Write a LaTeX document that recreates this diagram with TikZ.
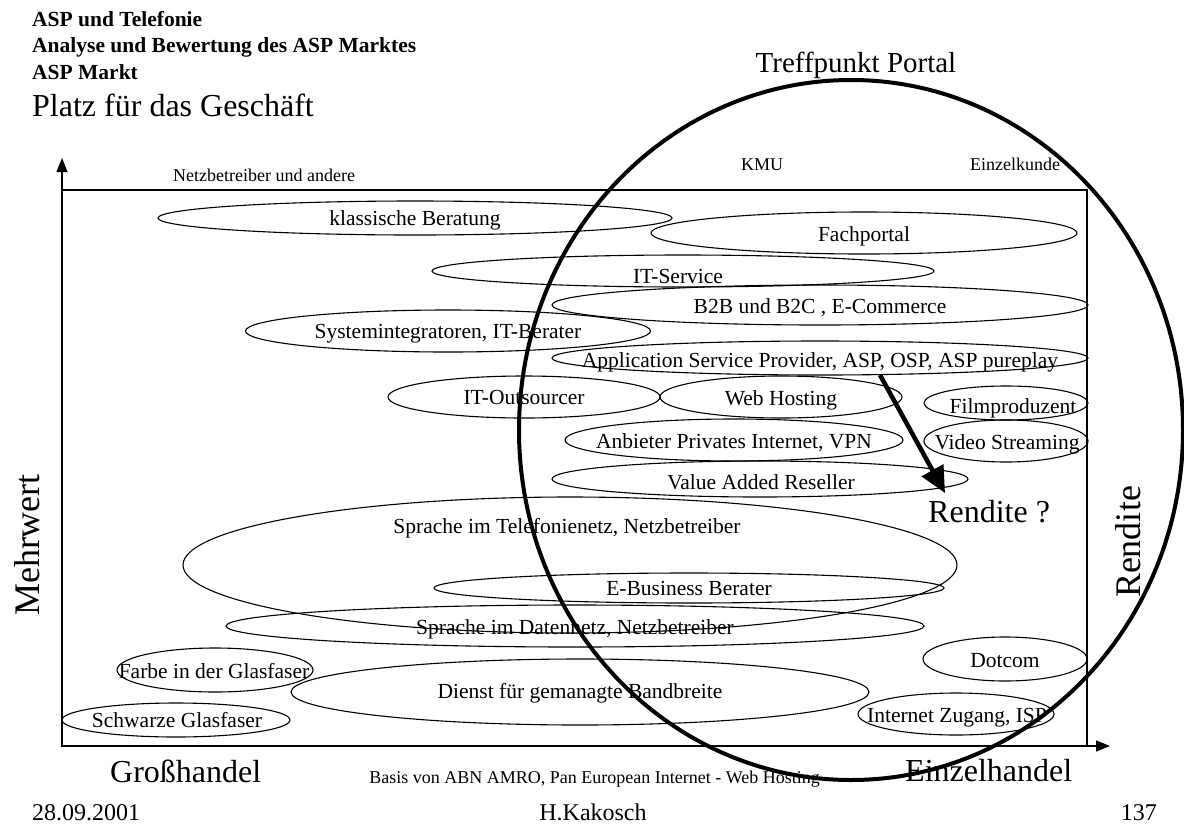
\documentclass[tikz,border=0pt]{standalone}
\usepackage{fontspec}
\setmainfont{Liberation Serif}
\usetikzlibrary{shapes.geometric,arrows.meta}
\begin{document}
\begin{tikzpicture}[x=1pt,y=-1pt,
  thin/.style={line width=1.1pt},
  oval/.style={draw, ellipse, inner sep=0pt, line width=1.1pt},
  lbl/.style={anchor=base, inner sep=0pt, font=\fontsize{21.5}{24}\selectfont},
  small/.style={anchor=base, inner sep=0pt, font=\fontsize{18}{20}\selectfont},
  ttl/.style={anchor=base west, inner sep=0pt, font=\fontsize{21.5}{24}\selectfont\bfseries},
  big/.style={inner sep=0pt, font=\fontsize{36}{40}\selectfont},
  foot/.style={inner sep=0pt, font=\fontsize{24}{26}\selectfont},
  axisarrow/.style={line width=1.1pt, -{Triangle[length=14pt,width=11pt]}},
  portal/.style={draw, ellipse, inner sep=0pt, line width=4pt}]
\useasboundingbox (0,0) rectangle (1184,823);

% titles
\node[ttl] (t1) at (32,26) {ASP und Telefonie};
\node[ttl] (t2) at (32,52) {Analyse und Bewertung des ASP Marktes};
\node[ttl] (t3) at (32,79) {ASP Markt};
\node[anchor=base west, inner sep=0pt, font=\fontsize{32}{36}\selectfont] (t4) at (32,116) {Platz für das Geschäft};
\node[anchor=base, inner sep=0pt, font=\fontsize{29}{32}\selectfont] (tp) at (856,72) {Treffpunkt Portal};

% axes and frame
\coordinate (o) at (62,746);
\coordinate (ytop) at (62,158);
\coordinate (xend) at (1110,746);
\coordinate (rtl) at (62,190);
\coordinate (rbr) at (1087,746);
\draw[thin] (rtl) rectangle (rbr);
\draw[axisarrow] (o) -- (ytop);
\draw[axisarrow] (o) -- (xend);

\node[small, anchor=base west] (nb) at (173,181) {Netzbetreiber und andere};
\node[small] (kmu) at (762,170) {KMU};
\node[small] (ek) at (1015,170) {Einzelkunde};

% ellipses
\node[oval, minimum width=514, minimum height=34] (e1) at (415,218) {};
\node[lbl] at (415,225) {klassische Beratung};
\node[oval, minimum width=426, minimum height=42] (e2) at (864,233) {};
\node[lbl] at (864,241) {Fachportal};
\node[oval, minimum width=502, minimum height=32] (e3) at (683,271) {};
\node[lbl] at (678,283) {IT-Service};
\node[oval, minimum width=536, minimum height=40] (e4) at (820,305) {};
\node[lbl] at (820,313) {B2B und B2C , E-Commerce};
\node[oval, minimum width=405, minimum height=42] (e5) at (448,331) {};
\node[lbl] at (448,338) {Systemintegratoren, IT-Berater};
\node[oval, minimum width=536, minimum height=34] (e6) at (820,358) {};
\node[lbl] at (820,367) {Application Service Provider, ASP, OSP, ASP pureplay};
\node[oval, minimum width=272, minimum height=42] (e7) at (524,397) {};
\node[lbl] at (524,404) {IT-Outsourcer};
\node[oval, minimum width=242, minimum height=42] (e8) at (781,397) {};
\node[lbl] at (781,405) {Web Hosting};
\node[oval, minimum width=164, minimum height=34] (e9) at (1006,403) {};
\node[lbl] at (1013,413) {Filmproduzent};
\node[oval, minimum width=164, minimum height=42] (e10) at (1006,441) {};
\node[lbl] at (1007,449) {Video Streaming};
\node[oval, minimum width=338, minimum height=42] (e11) at (734,440) {};
\node[lbl] at (734,448) {Anbieter Privates Internet, VPN};
\node[oval, minimum width=416, minimum height=36] (e12) at (760,479) {};
\node[lbl] at (761,489) {Value Added Reseller};
\node[oval, minimum width=774, minimum height=136] (e13) at (570,565) {};
\node[lbl] at (567,533) {Sprache im Telefonienetz, Netzbetreiber};
\node[oval, minimum width=510, minimum height=30] (e14) at (689,588) {};
\node[lbl] at (689,595) {E-Business Berater};
\node[oval, minimum width=698, minimum height=42] (e15) at (575,626) {};
\node[lbl] at (575,634) {Sprache im Datennetz, Netzbetreiber};
\node[oval, minimum width=196, minimum height=44] (e16) at (215,670) {};
\node[lbl] at (214,678) {Farbe in der Glasfaser};
\node[oval, minimum width=164, minimum height=44] (e17) at (1005,659) {};
\node[lbl] at (1005,667) {Dotcom};
\node[oval, minimum width=578, minimum height=66] (e18) at (580,692) {};
\node[lbl] at (580,698) {Dienst für gemanagte Bandbreite};
\node[oval, minimum width=228, minimum height=34] (e19) at (176,720) {};
\node[lbl] at (177,727) {Schwarze Glasfaser};
\node[oval, minimum width=196, minimum height=42] (e20) at (956,714) {};
\node[lbl] at (957,722) {Internet Zugang, ISP};

% big portal ellipse
\node[portal, minimum width=664, minimum height=700] (pt) at (851,430) {};

% Rendite arrow
\coordinate (as) at (880,375);
\coordinate (ae) at (945,493);
\draw[line width=4.5pt, -{Triangle[length=26pt,width=24pt]}] (as) -- (ae);
\node[anchor=base west, inner sep=0pt, font=\fontsize{32}{36}\selectfont] (rq) at (928,522) {Rendite ?};

% axis labels
\node[big, rotate=90] (mw) at (27,545) {Mehrwert};
\node[big, rotate=90] (rd) at (1128,542) {Rendite};
\node[anchor=base west, inner sep=0pt, font=\fontsize{32}{36}\selectfont] (gh) at (110,782) {Großhandel};
\node[anchor=base west, inner sep=0pt, font=\fontsize{32}{36}\selectfont] (eh) at (905,781) {Einzelhandel};
\node[small, anchor=base east] (bs) at (820,783) {Basis von ABN AMRO, Pan European Internet - Web Hosting};

% footer
\node[foot, anchor=base west] (d) at (32,820) {28.09.2001};
\node[foot, anchor=base] (au) at (593,820) {H.Kakosch};
\node[foot, anchor=base east] (pg) at (1157,820) {137};
\end{tikzpicture}
\end{document}
